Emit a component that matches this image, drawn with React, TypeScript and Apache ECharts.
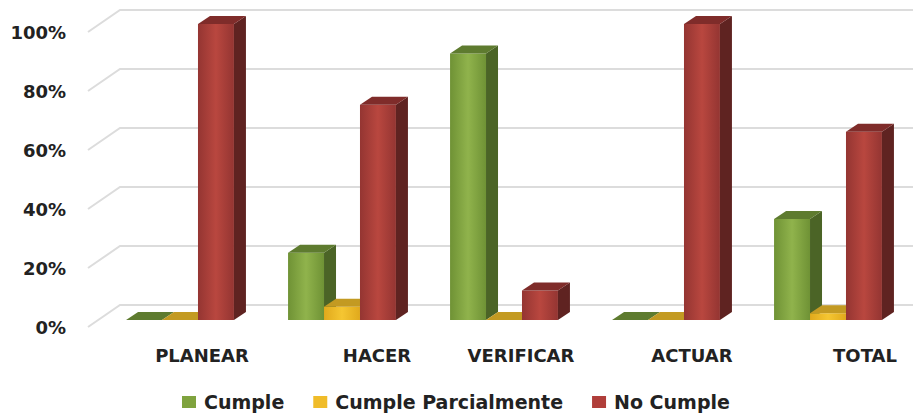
import React, { useEffect, useRef } from "react";
import * as echarts from "echarts";

const categories = ["PLANEAR", "HACER", "VERIFICAR", "ACTUAR", "TOTAL"];
const cumple = [0, 0.227, 0.9, 0, 0.341];
const parcial = [0, 0.045, 0, 0, 0.023];
const noCumple = [1.0, 0.727, 0.1, 1.0, 0.636];
const yTicks = [0, 0.2, 0.4, 0.6, 0.8, 1.0];
const seriesNames = ["Cumple", "Cumple Parcialmente", "No Cumple"];
const labelShift = [22, 35, 17, 26, 37];

const FONT = "'DejaVu Sans', sans-serif";

const palettes = [
  { legend: "#7fa33e", edge: "#6f9235", mid: "#90b34c", top: "#5e7b2f", side: "#4b6426" },
  { legend: "#f0bc29", edge: "#e0a91c", mid: "#f5c632", top: "#c39a22", side: "#a37d17" },
  { legend: "#b03e3a", edge: "#943532", mid: "#b9473f", top: "#7f2c2a", side: "#5f2321" },
];

const DX = 12;
const DY = -8;

function barSeries(idx: number, values: number[]) {
  const pal = palettes[idx];
  return {
    type: "custom",
    name: seriesNames[idx],
    xAxisIndex: 0,
    yAxisIndex: 0,
    itemStyle: { color: pal.legend },
    z: 3 + idx,
    data: values.map((v, i) => [i, v]),
    encode: { x: 0, y: 1 },
    renderItem: (params: any, api: any) => {
      const ci = api.value(0);
      const v = api.value(1);
      const top = api.coord([ci, v]);
      const base = api.coord([ci, 0]);
      const band = api.size([1, 0])[0];
      const bw = band * 0.222;
      const x0 = top[0] - 1.5 * bw + idx * bw;
      const ty = top[1];
      const by = base[1];
      const children: any[] = [];
      if (by - ty > 0.1) {
        children.push({
          type: "rect",
          shape: { x: x0, y: ty, width: bw, height: by - ty },
          style: {
            fill: new echarts.graphic.LinearGradient(0, 0, 1, 0, [
              { offset: 0, color: pal.edge },
              { offset: 0.5, color: pal.mid },
              { offset: 1, color: pal.edge },
            ]),
          },
        });
        children.push({
          type: "polygon",
          shape: {
            points: [
              [x0 + bw, ty],
              [x0 + bw + DX, ty + DY],
              [x0 + bw + DX, by + DY],
              [x0 + bw, by],
            ],
          },
          style: { fill: pal.side },
        });
      }
      children.push({
        type: "polygon",
        shape: {
          points: [
            [x0, ty],
            [x0 + DX, ty + DY],
            [x0 + bw + DX, ty + DY],
            [x0 + bw, ty],
          ],
        },
        style: { fill: pal.top },
      });
      return { type: "group", children };
    },
  };
}

export default function App() {
  const ref = useRef<HTMLDivElement>(null);
  useEffect(() => {
    if (!ref.current) return;
    const chart = echarts.init(ref.current, null, { renderer: "svg" });
    const rich: any = {};
    labelShift.forEach((s, i) => {
      rich["c" + i] = {
        fontFamily: FONT,
        fontWeight: "bold",
        fontSize: 18,
        color: "#222",
        padding: [0, 0, 0, s * 2],
      };
    });
    chart.setOption({
      animation: false,
      backgroundColor: "#ffffff",
      grid: [
        { left: 99, top: 24, width: 810, height: 296 },
        { left: 88, top: 32, width: 32, height: 295 },
      ],
      xAxis: [
        {
          type: "category",
          gridIndex: 0,
          data: categories,
          axisLine: { show: false },
          axisTick: { show: false },
          axisLabel: {
            margin: 26,
            formatter: (val: string, i: number) => `{c${i}|${val}}`,
            rich,
          },
        },
        { type: "value", gridIndex: 1, min: 0, max: 1, show: false },
      ],
      yAxis: [
        { type: "value", gridIndex: 0, min: 0, max: 1, show: false },
        {
          type: "value",
          gridIndex: 1,
          min: 0,
          max: 1,
          interval: 0.2,
          axisLine: { show: false },
          axisTick: { show: false },
          splitLine: { show: false },
          axisLabel: {
            margin: 22,
            formatter: (v: number) => `${Math.round(v * 100)}%`,
            fontFamily: FONT,
            fontWeight: "bold",
            fontSize: 18,
            color: "#222",
          },
        },
      ],
      legend: {
        data: seriesNames,
        left: 182,
        top: 391,
        padding: 0,
        icon: "rect",
        itemWidth: 14,
        itemHeight: 12,
        itemGap: 29,
        textStyle: {
          fontFamily: FONT,
          fontWeight: "bold",
          fontSize: 19,
          lineHeight: 22,
          color: "#222",
          padding: [0, 0, 0, 3],
        },
      },
      series: [
        {
          type: "custom",
          name: "grid",
          xAxisIndex: 1,
          yAxisIndex: 1,
          z: 1,
          silent: true,
          data: yTicks.map((v) => [0, v]),
          encode: { x: 0, y: 1 },
          renderItem: (params: any, api: any) => {
            const v = api.value(1);
            const p = api.coord([0, v]);
            const q = api.coord([1, v]);
            const right = api.getWidth() - 6;
            return {
              type: "polyline",
              shape: { points: [p, [q[0], q[1] - 22], [right, q[1] - 22]] },
              style: { stroke: "#dcdcdc", lineWidth: 2, fill: "none" },
            };
          },
        },
        barSeries(0, cumple),
        barSeries(1, parcial),
        barSeries(2, noCumple),
      ],
    });
    return () => chart.dispose();
  }, []);
  return <div ref={ref} style={{ width: 919, height: 415, position: "absolute", left: 0, top: 0 }} />;
}
